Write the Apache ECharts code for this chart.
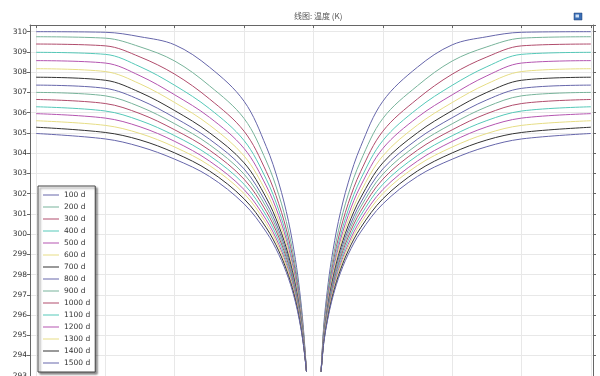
<!DOCTYPE html>
<html>
<head>
<meta charset="utf-8">
<script src="https://cdn.jsdelivr.net/npm/echarts@6/dist/echarts.min.js"></script>
<style>
  html, body { margin: 0; padding: 0; background: #fff; overflow: hidden; }
  /* plot continues below the visible window, as in the screenshot */
  #chart { width: 600px; height: 400px; }
</style>
</head>
<body>
<div id="chart"></div>
<script>
// distance from the borehole centre (one grid step = 1)
const xLeft = [-0.1, -0.15, -0.2, -0.26, -0.36, -0.5, -0.68, -1.0, -1.5, -2.0, -2.5, -3.0, -4.0];
const xRight = [0.11, 0.15, 0.2, 0.26, 0.36, 0.5, 0.68, 1.0, 1.5, 2.0, 2.5, 3.0, 4.0];

const days = ["100 d", "200 d", "300 d", "400 d", "500 d", "600 d", "700 d", "800 d",
  "900 d", "1000 d", "1100 d", "1200 d", "1300 d", "1400 d", "1500 d"];

// temperature (K) at each distance, profile is the same on both sides
const t100 = [293.2, 295.55, 297.22, 298.74, 300.63, 302.53, 304.32, 306.56, 308.25, 309.35, 309.75, 309.97, 310.0];
const t200 = [293.2, 295.4, 296.96, 298.39, 300.16, 301.94, 303.61, 305.71, 307.33, 308.55, 309.25, 309.68, 309.75];
const t300 = [293.2, 295.29, 296.78, 298.13, 299.81, 301.5, 303.09, 305.08, 306.68, 307.9, 308.75, 309.3, 309.39];
const t400 = [293.2, 295.21, 296.64, 297.94, 299.55, 301.18, 302.71, 304.62, 306.2, 307.35, 308.27, 308.88, 308.98];
const t500 = [293.2, 295.14, 296.52, 297.78, 299.34, 300.91, 302.38, 304.23, 305.77, 306.88, 307.82, 308.45, 308.57];
const t600 = [293.2, 295.08, 296.41, 297.63, 299.13, 300.65, 302.08, 303.86, 305.39, 306.5, 307.42, 308.03, 308.17];
const t700 = [293.2, 295.01, 296.3, 297.48, 298.94, 300.41, 301.79, 303.52, 305.01, 306.1, 307.0, 307.6, 307.75];
const t800 = [293.2, 294.96, 296.21, 297.36, 298.77, 300.2, 301.54, 303.22, 304.69, 305.75, 306.63, 307.2, 307.36];
const t900 = [293.2, 294.92, 296.14, 297.25, 298.63, 300.02, 301.33, 302.96, 304.42, 305.45, 306.29, 306.83, 307.0];
const t1000 = [293.2, 294.87, 296.06, 297.15, 298.49, 299.85, 301.12, 302.71, 304.15, 305.15, 305.95, 306.45, 306.65];
const t1100 = [293.2, 294.83, 295.99, 297.04, 298.35, 299.67, 300.91, 302.46, 303.88, 304.86, 305.61, 306.08, 306.29];
const t1200 = [293.2, 294.78, 295.91, 296.94, 298.21, 299.49, 300.7, 302.2, 303.61, 304.58, 305.3, 305.73, 305.95];
const t1300 = [293.2, 294.75, 295.85, 296.85, 298.09, 299.35, 300.52, 302.0, 303.39, 304.3, 304.97, 305.37, 305.6];
const t1400 = [293.2, 294.7, 295.77, 296.75, 297.95, 299.17, 300.31, 301.74, 303.12, 304.01, 304.65, 305.02, 305.28];
const t1500 = [293.2, 294.66, 295.69, 296.64, 297.81, 298.99, 300.1, 301.49, 302.85, 303.7, 304.32, 304.7, 304.97];

const temps = [t100, t200, t300, t400, t500, t600, t700, t800, t900, t1000, t1100, t1200, t1300, t1400, t1500];

const palette = ["#6666aa", "#77b39a", "#b04c6c", "#55c8b8", "#b455b0", "#e6dd85", "#333333"];

const chart = echarts.init(document.getElementById("chart"));

const series = [];
days.forEach((name, i) => {
  const color = palette[i % palette.length];
  [xLeft, xRight].forEach((xs) => {
    series.push({
      name: name,
      type: "line",
      symbol: "none",
      smooth: 0.35,
      color: color,
      lineStyle: { width: 1, color: color },
      data: xs.map((x, k) => [x, temps[i][k]]),
    });
  });
});

const font = "DejaVu Sans";
const frame = { show: true, onZero: false, lineStyle: { color: "#666" } };

chart.setOption({
  animation: false,
  title: {
    text: "线图: 温度 (K)",
    left: 289,
    top: 7,
    textStyle: { fontFamily: "Noto Sans CJK SC", fontSize: 8, fontWeight: "normal", color: "#555" },
  },
  legend: {
    data: days,
    orient: "vertical",
    left: 38,
    top: 186,
    padding: [3, 5, 3, 5],
    icon: "rect",
    itemWidth: 16,
    itemHeight: 1,
    itemGap: 0,
    backgroundColor: "#fff",
    borderColor: "#444",
    borderWidth: 1,
    shadowColor: "rgba(0,0,0,0.45)",
    shadowBlur: 2,
    shadowOffsetX: 2,
    shadowOffsetY: 2,
    textStyle: { fontFamily: font, fontSize: 7.5, lineHeight: 12, color: "#333" },
  },
  grid: { left: 30, top: 25, right: 7, height: 372 },
  xAxis: [
    {
      type: "value",
      position: "top",
      min: -4.0865,
      max: 4.03,
      splitNumber: 8,
      axisLine: frame,
      axisTick: { show: true, inside: true, length: 3, lineStyle: { color: "#666" } },
      axisLabel: { show: false },
      splitLine: { show: true, lineStyle: { color: "#e8e8e8" } },
    },
  ],
  yAxis: [
    {
      type: "value",
      min: 292,
      max: 310.33,
      interval: 1,
      axisLine: frame,
      axisTick: { show: true, length: 3, lineStyle: { color: "#666" } },
      axisLabel: {
        showMaxLabel: false,
        margin: 3,
        fontFamily: font,
        fontSize: 7.5,
        color: "#333",
      },
      splitLine: { show: true, lineStyle: { color: "#e8e8e8" } },
    },
    {
      type: "value",
      position: "right",
      min: 292,
      max: 310.33,
      interval: 1,
      axisLine: frame,
      axisTick: { show: true, length: 3, lineStyle: { color: "#666" } },
      axisLabel: { show: false },
      splitLine: { show: false },
    },
  ],
  graphic: [
    {
      type: "rect",
      shape: { x: 574, y: 13, width: 8, height: 7 },
      style: { fill: "#3b6fb6", stroke: "#1f3f70", lineWidth: 0.5 },
    },
    {
      type: "rect",
      shape: { x: 575.5, y: 14.5, width: 3.5, height: 3 },
      style: { fill: "#cfe0f5" },
    },
  ],
  series: series,
});
</script>
</body>
</html>
